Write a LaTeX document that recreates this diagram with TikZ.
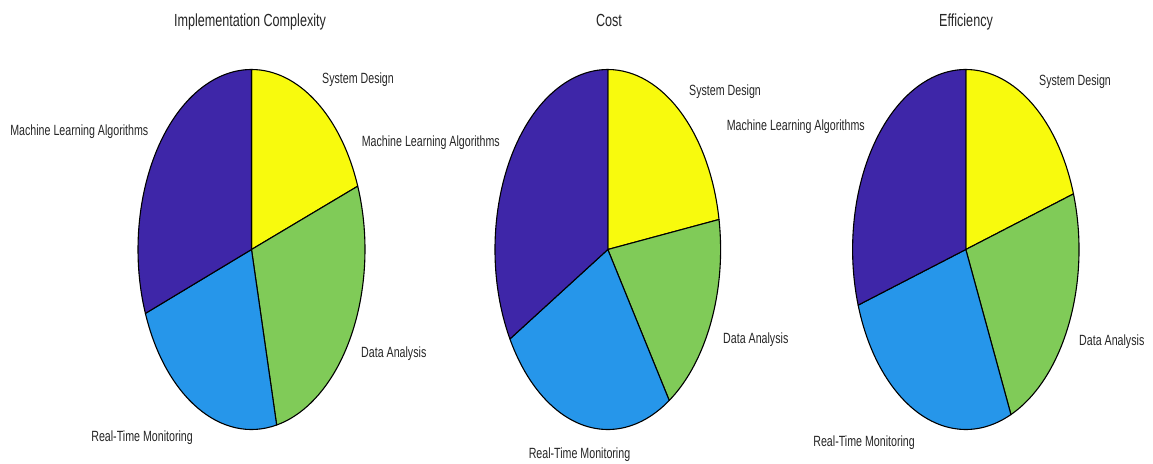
\documentclass[tikz,border=0pt]{standalone}
\usepackage{fontspec}
\setmainfont{Liberation Sans}
\usepackage{graphicx}

\definecolor{ppurple}{RGB}{62,38,168}
\definecolor{pblue}{RGB}{38,150,234}
\definecolor{pgreen}{RGB}{128,203,88}
\definecolor{pyellow}{RGB}{248,250,13}
\definecolor{txt}{RGB}{38,38,38}

% narrow lettering used for every text in the figure
\newcommand\sqz[1]{\scalebox{0.72}[1]{#1}}

% one wedge of an elliptical pie: centre, x radius, y radius, from, to, colour
\newcommand\piewedge[6]{%
  \filldraw[slice, fill=#6] (#1) -- ++(#4:#2 and #3)
    arc[start angle=#4, end angle=#5, x radius=#2, y radius=#3] -- cycle;}

\tikzset{
  slice/.style={draw=black, line width=1.1pt, line join=round},
  lbl/.style={inner sep=0pt, text=txt, font=\fontsize{14.8}{16}\selectfont},
  ttl/.style={inner sep=0pt, text=txt, font=\fontsize{17.5}{19}\selectfont, anchor=base},
}

\begin{document}
\begin{tikzpicture}[x=1pt, y=1pt]
  \fill[white] (0,0) rectangle (1153,-463);
  \useasboundingbox (0,0) rectangle (1153,-463);

  \coordinate (c1) at (251.5,-249.5);
  \coordinate (c2) at (607.8,-249.5);
  \coordinate (c3) at (965.8,-249.5);

  % Implementation Complexity
  \piewedge{c1}{113.5}{180}{90}{20.6}{pyellow}
  \piewedge{c1}{113.5}{180}{20.6}{-77.2}{pgreen}
  \piewedge{c1}{113.5}{180}{-77.2}{-159.2}{pblue}
  \piewedge{c1}{113.5}{180}{-159.2}{-270}{ppurple}

  % Cost
  \piewedge{c2}{112.8}{180}{90}{9.6}{pyellow}
  \piewedge{c2}{112.8}{180}{9.6}{-57}{pgreen}
  \piewedge{c2}{112.8}{180}{-57}{-150.2}{pblue}
  \piewedge{c2}{112.8}{180}{-150.2}{-270}{ppurple}

  % Efficiency
  \piewedge{c3}{113.2}{180}{90}{18}{pyellow}
  \piewedge{c3}{113.2}{180}{18}{-66.5}{pgreen}
  \piewedge{c3}{113.2}{180}{-66.5}{-162}{pblue}
  \piewedge{c3}{113.2}{180}{-162}{-270}{ppurple}

  % titles
  \node[ttl] (t1) at (250,-27) {\sqz{Implementation Complexity}};
  \node[ttl] (t2) at (609,-27) {\sqz{Cost}};
  \node[ttl] (t3) at (966,-27) {\sqz{Efficiency}};

  % labels, first pie
  \node[lbl, anchor=base west] (a1) at (322,-83.3) {\sqz{System Design}};
  \node[lbl, anchor=base west] (a2) at (361,-357.3) {\sqz{Data Analysis}};
  \node[lbl, anchor=base east] (a3) at (193,-441.7) {\sqz{Real-Time Monitoring}};
  \node[lbl, anchor=base east] (a4) at (148.5,-135) {\sqz{Machine Learning Algorithms}};

  % labels, second pie
  \node[lbl, anchor=base west] (b1) at (689,-95) {\sqz{System Design}};
  \node[lbl, anchor=base west] (b2) at (723,-343.5) {\sqz{Data Analysis}};
  \node[lbl, anchor=base] (b3) at (579.5,-458.3) {\sqz{Real-Time Monitoring}};
  \node[lbl, anchor=base east] (b4) at (500,-146.7) {\sqz{Machine Learning Algorithms}};

  % labels, third pie
  \node[lbl, anchor=base west] (e1) at (1039,-85.5) {\sqz{System Design}};
  \node[lbl, anchor=base west] (e2) at (1079,-345) {\sqz{Data Analysis}};
  \node[lbl, anchor=base east] (e3) at (915,-446.7) {\sqz{Real-Time Monitoring}};
  \node[lbl, anchor=base east] (e4) at (865,-130) {\sqz{Machine Learning Algorithms}};
\end{tikzpicture}
\end{document}
